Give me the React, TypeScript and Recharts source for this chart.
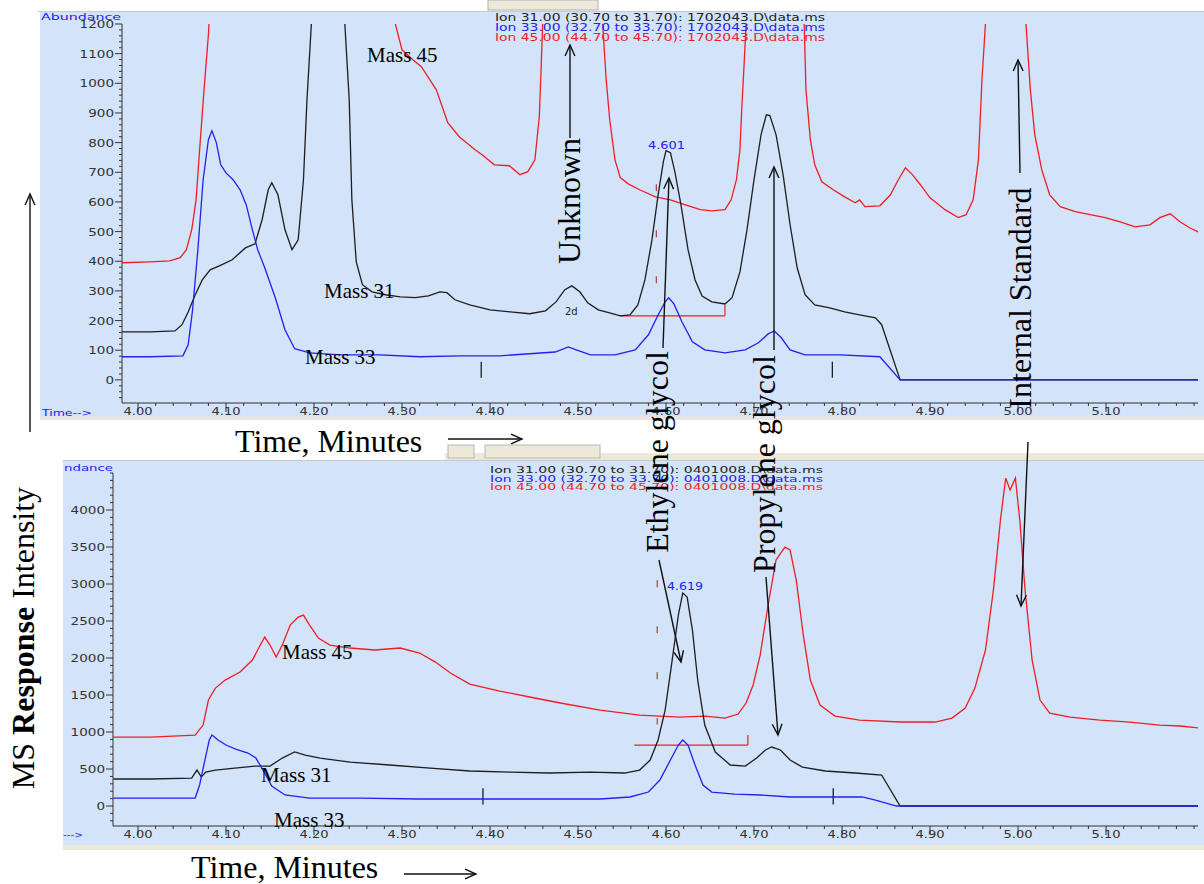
import React from 'react';
import { LineChart, Line, XAxis, YAxis, ReferenceLine } from 'recharts';

// ---------------- data: [time (min), abundance] ----------------
// Top chromatogram: 1702043.D
const topMass45: [number, number][] = [
  [3.982, 395], [4.014, 398], [4.036, 401], [4.048, 412], [4.055, 439], [4.061, 506], [4.066, 607], [4.070, 776],
  [4.075, 978], [4.080, 1164], [4.084, 1400], [4.127, 2500], [4.184, 3000], [4.241, 2500], [4.286, 1400], [4.292, 1205],
  [4.300, 1113], [4.312, 1080], [4.322, 1056], [4.339, 978], [4.352, 867], [4.365, 820], [4.383, 776], [4.391, 759],
  [4.405, 725], [4.422, 722], [4.434, 692], [4.443, 702], [4.451, 742], [4.456, 887], [4.458, 1046], [4.460, 1215],
  [4.466, 1600], [4.491, 3000], [4.523, 1600], [4.528, 1201], [4.532, 1012], [4.536, 877], [4.542, 742], [4.548, 682],
  [4.557, 661], [4.570, 641], [4.588, 617], [4.605, 607], [4.622, 590], [4.639, 574], [4.652, 570], [4.667, 574],
  [4.674, 607], [4.680, 675], [4.684, 776], [4.686, 911], [4.689, 1080], [4.691, 1201], [4.695, 1500], [4.724, 2500],
  [4.752, 1500], [4.757, 1201], [4.759, 978], [4.764, 810], [4.769, 725], [4.777, 668], [4.790, 641], [4.803, 617],
  [4.815, 597], [4.820, 607], [4.826, 584], [4.843, 587], [4.855, 624], [4.864, 675], [4.872, 715], [4.880, 692],
  [4.889, 658], [4.900, 614], [4.917, 574], [4.932, 547], [4.941, 557], [4.949, 607], [4.955, 742], [4.959, 1012],
  [4.963, 1201], [4.968, 2000], [4.991, 4000], [5.005, 2000], [5.009, 1201], [5.014, 978], [5.019, 827], [5.027, 708],
  [5.036, 624], [5.048, 584], [5.065, 567], [5.082, 557], [5.099, 547], [5.116, 533], [5.133, 516], [5.150, 523],
  [5.161, 547], [5.173, 560], [5.184, 533], [5.195, 513], [5.205, 499],
];

const topMass31: [number, number][] = [
  [3.982, 162], [4.014, 162], [4.042, 165], [4.050, 186], [4.057, 229], [4.065, 287], [4.073, 337], [4.082, 371],
  [4.093, 385], [4.107, 405], [4.122, 445], [4.133, 459], [4.141, 540], [4.148, 641], [4.152, 665], [4.159, 624],
  [4.167, 506], [4.175, 439], [4.182, 472], [4.188, 675], [4.192, 945], [4.197, 1201], [4.207, 2500], [4.218, 3000],
  [4.230, 2500], [4.235, 1201], [4.240, 945], [4.243, 607], [4.248, 398], [4.255, 321], [4.266, 297], [4.281, 287],
  [4.298, 280], [4.315, 277], [4.330, 283], [4.343, 297], [4.351, 294], [4.360, 270], [4.377, 253], [4.400, 236],
  [4.423, 229], [4.445, 223], [4.463, 233], [4.475, 263], [4.485, 304], [4.493, 317], [4.502, 297], [4.511, 260],
  [4.523, 236], [4.536, 226], [4.548, 216], [4.559, 219], [4.568, 253], [4.576, 337], [4.584, 472], [4.591, 624],
  [4.597, 736], [4.600, 773], [4.605, 766], [4.610, 702], [4.617, 590], [4.625, 439], [4.633, 337], [4.641, 283],
  [4.652, 263], [4.667, 256], [4.675, 277], [4.684, 364], [4.692, 506], [4.700, 675], [4.708, 827], [4.714, 894],
  [4.718, 891], [4.725, 827], [4.733, 692], [4.741, 523], [4.749, 378], [4.758, 287], [4.769, 253], [4.786, 243],
  [4.803, 229], [4.820, 219], [4.838, 209], [4.845, 186], [4.866, 0], [5.205, 0],
];

const topMass33: [number, number][] = [
  [3.982, 78], [4.014, 78], [4.051, 81], [4.057, 118], [4.062, 236], [4.068, 439], [4.074, 675], [4.080, 810],
  [4.084, 840], [4.089, 800], [4.094, 725], [4.100, 698], [4.108, 675], [4.116, 641], [4.123, 590], [4.130, 506],
  [4.136, 439], [4.144, 378], [4.156, 277], [4.167, 169], [4.178, 105], [4.195, 91], [4.230, 84], [4.275, 84],
  [4.320, 78], [4.366, 81], [4.411, 81], [4.445, 88], [4.474, 94], [4.489, 111], [4.498, 101], [4.514, 84],
  [4.542, 84], [4.565, 101], [4.580, 152], [4.591, 219], [4.599, 263], [4.603, 277], [4.609, 256], [4.618, 196],
  [4.630, 128], [4.644, 101], [4.667, 91], [4.690, 101], [4.705, 125], [4.716, 155], [4.723, 165], [4.731, 142],
  [4.741, 101], [4.758, 84], [4.798, 84], [4.843, 78], [4.866, 0], [5.205, 0],
];

// Bottom chromatogram: 0401008.D
const botMass45: [number, number][] = [
  [3.972, 932], [4.014, 932], [4.065, 959], [4.074, 1094], [4.080, 1432], [4.088, 1594], [4.099, 1702], [4.116, 1810],
  [4.130, 1972], [4.139, 2175], [4.144, 2283], [4.150, 2175], [4.157, 2013], [4.164, 2175], [4.173, 2445], [4.182, 2553],
  [4.188, 2580], [4.195, 2445], [4.205, 2270], [4.218, 2175], [4.241, 2135], [4.269, 2108], [4.298, 2135], [4.320, 2067],
  [4.338, 1945], [4.355, 1797], [4.377, 1648], [4.411, 1554], [4.445, 1473], [4.480, 1392], [4.525, 1297], [4.570, 1229],
  [4.616, 1202], [4.644, 1216], [4.667, 1189], [4.682, 1243], [4.691, 1392], [4.699, 1635], [4.707, 2040], [4.716, 2716],
  [4.725, 3323], [4.735, 3499], [4.741, 3459], [4.748, 3053], [4.756, 2310], [4.764, 1702], [4.775, 1365], [4.792, 1216],
  [4.820, 1162], [4.866, 1135], [4.906, 1135], [4.925, 1189], [4.940, 1324], [4.951, 1594], [4.963, 2108], [4.972, 2918],
  [4.980, 3864], [4.986, 4431], [4.991, 4269], [4.997, 4431], [5.002, 3864], [5.008, 2918], [5.016, 1972], [5.025, 1432],
  [5.036, 1256], [5.059, 1202], [5.093, 1162], [5.127, 1135], [5.161, 1094], [5.184, 1081], [5.205, 1054],
];

const botMass31: [number, number][] = [
  [3.972, 365], [4.014, 365], [4.061, 378], [4.067, 486], [4.072, 392], [4.077, 459], [4.088, 486], [4.110, 513],
  [4.133, 540], [4.150, 540], [4.164, 648], [4.178, 730], [4.190, 689], [4.207, 648], [4.241, 594], [4.286, 554],
  [4.332, 513], [4.377, 473], [4.423, 459], [4.468, 446], [4.514, 459], [4.553, 446], [4.570, 486], [4.582, 621],
  [4.591, 892], [4.599, 1297], [4.607, 1972], [4.614, 2580], [4.619, 2878], [4.624, 2824], [4.630, 2378], [4.636, 1702],
  [4.644, 1094], [4.656, 730], [4.673, 554], [4.690, 540], [4.703, 648], [4.713, 757], [4.720, 797], [4.730, 757],
  [4.741, 621], [4.755, 527], [4.781, 473], [4.815, 446], [4.845, 419], [4.866, 0], [5.205, 0],
];

const botMass33: [number, number][] = [
  [3.972, 108], [4.014, 108], [4.065, 108], [4.070, 284], [4.076, 621], [4.081, 892], [4.084, 959], [4.091, 892],
  [4.100, 824], [4.111, 770], [4.125, 716], [4.134, 648], [4.142, 486], [4.152, 270], [4.167, 149], [4.195, 108],
  [4.252, 108], [4.320, 95], [4.389, 95], [4.457, 95], [4.525, 95], [4.559, 122], [4.580, 189], [4.593, 351],
  [4.605, 621], [4.614, 824], [4.619, 892], [4.625, 824], [4.633, 554], [4.642, 284], [4.652, 189], [4.678, 162],
  [4.707, 149], [4.741, 122], [4.786, 122], [4.823, 122], [4.838, 81], [4.862, 0], [5.205, 0],
];

// axis ticks / labels
const xMajorTicks = [4.0, 4.1, 4.2, 4.3, 4.4, 4.5, 4.6, 4.7, 4.8, 4.9, 5.0, 5.1];
const topYMajor = [0, 100, 200, 300, 400, 500, 600, 700, 800, 900, 1000, 1100, 1200];
const botYMajor = [0, 500, 1000, 1500, 2000, 2500, 3000, 3500, 4000];
const topLegend = [
  'Ion  31.00 (30.70 to 31.70): 1702043.D\\data.ms',
  'Ion  33.00 (32.70 to 33.70): 1702043.D\\data.ms',
  'Ion  45.00 (44.70 to 45.70): 1702043.D\\data.ms',
];
const botLegend = [
  'Ion  31.00 (30.70 to 31.70): 0401008.D\\data.ms',
  'Ion  33.00 (32.70 to 33.70): 0401008.D\\data.ms',
  'Ion  45.00 (44.70 to 45.70): 0401008.D\\data.ms',
];

// ---------------- helpers ----------------
const RED = '#f01e23';
const BLUE = '#2222ee';
const BLACK = '#1e1e1e';
const AXIS = '#333';
const PANEL = '#d2e3fa';
const TICK_FONT = '"DejaVu Sans", Verdana, sans-serif';
const SERIF = '"Liberation Serif", "Times New Roman", serif';

const toRows = (pairs: [number, number][]) => pairs.map(([t, v]) => ({ t, v }));
const range = (a: number, b: number, s: number) => {
  const out: number[] = [];
  for (let v = a; v <= b + 1e-9; v += s) out.push(Math.round(v * 1000) / 1000);
  return out;
};
const xTicks = range(4.0, 5.2, 0.02);
const topYTicks = range(-60, 1200, 20);
const botYTicks = range(-200, 4500, 100);

const XTick = (props: any) => {
  const { x, y, payload } = props;
  const v = payload.value as number;
  const major = xMajorTicks.some((m) => Math.abs(m - v) < 1e-6);
  return (
    <g>
      <line x1={x} x2={x} y1={y} y2={y + (major ? 9 : 3)} stroke={AXIS} strokeWidth={1} />
      {major && (
        <text x={x} y={y + 12} textAnchor="middle" fontSize={10} fill={AXIS} fontFamily={TICK_FONT}
          textLength={29} lengthAdjust="spacingAndGlyphs">
          {v.toFixed(2)}
        </text>
      )}
    </g>
  );
};

const makeYTick = (majors: number[]) => (props: any) => {
  const { x, y, payload } = props;
  const v = payload.value as number;
  const major = majors.includes(v);
  const label = String(v);
  return (
    <g>
      <line x1={x - (major ? 7 : 3)} x2={x} y1={y} y2={y} stroke={AXIS} strokeWidth={1} />
      {major && (
        <text x={x - 8} y={y + 4} textAnchor="end" fontSize={10} fill={AXIS} fontFamily={TICK_FONT}
          textLength={label.length * 8.6} lengthAdjust="spacingAndGlyphs">
          {label}
        </text>
      )}
    </g>
  );
};

const Arrow = ({ x1, y1, x2, y2, head = 12 }: { x1: number; y1: number; x2: number; y2: number; head?: number }) => {
  const a = Math.atan2(y2 - y1, x2 - x1);
  const s = 0.42;
  const p1 = [x2 - head * Math.cos(a - s), y2 - head * Math.sin(a - s)];
  const p2 = [x2 - head * Math.cos(a + s), y2 - head * Math.sin(a + s)];
  return (
    <g stroke="#111" strokeWidth={1.4} fill="none">
      <line x1={x1} y1={y1} x2={x2} y2={y2} />
      <polyline points={`${p1[0]},${p1[1]} ${x2},${y2} ${p2[0]},${p2[1]}`} />
    </g>
  );
};

const VText = ({ x, y, size = 32, children }: { x: number; y: number; size?: number; children: any }) => (
  <text x={x} y={y} transform={`rotate(-90 ${x} ${y})`} textAnchor="middle" fontFamily={SERIF}
    fontSize={size} fill="#000">
    {children}
  </text>
);

const HText = ({ x, y, size = 21, children }: { x: number; y: number; size?: number; children: any }) => (
  <text x={x} y={y} fontFamily={SERIF} fontSize={size} fill="#000">{children}</text>
);

const lineProps = { type: 'linear' as const, dataKey: 'v', dot: false, isAnimationActive: false, strokeWidth: 1.3 };

const Y_W = 60;
const X_H = 20;

// ---------------- component ----------------
export default function App() {
  const top45 = toRows(topMass45);
  const top31 = toRows(topMass31);
  const top33 = toRows(topMass33);
  const bot45 = toRows(botMass45);
  const bot31 = toRows(botMass31);
  const bot33 = toRows(botMass33);

  return (
    <div style={{ position: 'absolute', left: 0, top: 0, width: 1204, height: 884, background: '#fff', overflow: 'hidden' }}>
      {/* backgrounds */}
      <svg width={1204} height={884} style={{ position: 'absolute', left: 0, top: 0 }}>
        <rect x={488} y={0} width={110} height={10} fill="#ece9d8" stroke="#b0b0b0" />
        <line x1={38} x2={1204} y1={11.5} y2={11.5} stroke="#c8c8c8" />
        <rect x={40} y={12} width={1164} height={404} fill={PANEL} />
        <rect x={40} y={416} width={1164} height={4} fill="#e6e6e6" />
        <rect x={445} y={453} width={759} height={8} fill="#ece9d8" />
        <rect x={448} y={445} width={26} height={13} fill="#ece9d8" stroke="#b8b8b8" />
        <rect x={485} y={445} width={115} height={13} fill="#ece9d8" stroke="#b8b8b8" />
        <line x1={63} x2={1204} y1={460.5} y2={460.5} stroke="#c8c8c8" />
        <rect x={63} y={461} width={1141} height={384} fill={PANEL} />
        <rect x={63} y={845} width={1141} height={5} fill="#ece9d8" />
      </svg>

      {/* top chromatogram */}
      <div style={{ position: 'absolute', left: 0, top: 0 }}>
        <LineChart width={1204} height={430} margin={{ top: 24, right: 6, bottom: 27 - X_H, left: 122 - Y_W }}>
          <XAxis type="number" dataKey="t" domain={[3.9818, 5.2045]} allowDataOverflow ticks={xTicks} interval={0}
            height={X_H} tickSize={0} tickMargin={0} tickLine={false} tick={<XTick />} stroke={AXIS} />
          <YAxis type="number" domain={[-78, 1200]} allowDataOverflow ticks={topYTicks} interval={0}
            width={Y_W} tickSize={0} tickMargin={0} tickLine={false} tick={makeYTick(topYMajor)} stroke={AXIS} />
          <ReferenceLine segment={[{ x: 4.548, y: 216 }, { x: 4.667, y: 216 }]} stroke={RED} strokeWidth={1.2} />
          <ReferenceLine segment={[{ x: 4.667, y: 216 }, { x: 4.667, y: 253 }]} stroke={RED} strokeWidth={1.2} />
          <ReferenceLine segment={[{ x: 4.589, y: 660 }, { x: 4.589, y: 250 }]} stroke="#a84040" strokeWidth={1.2}
            strokeDasharray="7 39" />
          <ReferenceLine segment={[{ x: 4.39, y: 61 }, { x: 4.39, y: 7 }]} stroke={BLACK} strokeWidth={1.3} />
          <ReferenceLine segment={[{ x: 4.789, y: 61 }, { x: 4.789, y: 7 }]} stroke={BLACK} strokeWidth={1.3} />
          <Line {...lineProps} data={top45} stroke={RED} />
          <Line {...lineProps} data={top31} stroke={BLACK} />
          <Line {...lineProps} data={top33} stroke={BLUE} />
        </LineChart>
      </div>

      {/* bottom chromatogram */}
      <div style={{ position: 'absolute', left: 0, top: 440 }}>
        <LineChart width={1204} height={410} margin={{ top: 33, right: 6, bottom: 24 - X_H, left: 113 - Y_W }}>
          <XAxis type="number" dataKey="t" domain={[3.9716, 5.2045]} allowDataOverflow ticks={xTicks} interval={0}
            height={X_H} tickSize={0} tickMargin={0} tickLine={false} tick={<XTick />} stroke={AXIS} />
          <YAxis type="number" domain={[-270, 4500]} allowDataOverflow ticks={botYTicks} interval={0}
            width={Y_W} tickSize={0} tickMargin={0} tickLine={false} tick={makeYTick(botYMajor)} stroke={AXIS} />
          <ReferenceLine segment={[{ x: 4.564, y: 824 }, { x: 4.693, y: 824 }]} stroke={RED} strokeWidth={1.2} />
          <ReferenceLine segment={[{ x: 4.693, y: 824 }, { x: 4.693, y: 960 }]} stroke={RED} strokeWidth={1.2} />
          <ReferenceLine segment={[{ x: 4.590, y: 3050 }, { x: 4.590, y: 1100 }]} stroke="#a84040" strokeWidth={1.2}
            strokeDasharray="7 39" />
          <ReferenceLine segment={[{ x: 4.392, y: 240 }, { x: 4.392, y: 20 }]} stroke={BLACK} strokeWidth={1.3} />
          <ReferenceLine segment={[{ x: 4.790, y: 240 }, { x: 4.790, y: 20 }]} stroke={BLACK} strokeWidth={1.3} />
          <Line {...lineProps} data={bot45} stroke={RED} />
          <Line {...lineProps} data={bot31} stroke={BLACK} />
          <Line {...lineProps} data={bot33} stroke={BLUE} />
        </LineChart>
      </div>

      {/* annotations */}
      <svg width={1204} height={884} style={{ position: 'absolute', left: 0, top: 0, pointerEvents: 'none' }}>
        {/* instrument texts */}
        <text x={41} y={20} fontSize={9} fill={BLUE} fontFamily={TICK_FONT} textLength={80} lengthAdjust="spacingAndGlyphs">Abundance</text>
        <text x={42} y={416} fontSize={9} fill={BLUE} fontFamily={TICK_FONT} textLength={50} lengthAdjust="spacingAndGlyphs">Time--&gt;</text>
        <text x={64} y={471} fontSize={9} fill={BLUE} fontFamily={TICK_FONT} textLength={49} lengthAdjust="spacingAndGlyphs">ndance</text>
        <text x={63} y={838} fontSize={9} fill={BLUE} fontFamily={TICK_FONT} textLength={20} lengthAdjust="spacingAndGlyphs">---&gt;</text>
        {topLegend.map((s, i) => (
          <text key={'tl' + i} x={495} y={21 + i * 10} fontSize={10} fill={[BLACK, BLUE, RED][i]} fontFamily={TICK_FONT}
            textLength={330} lengthAdjust="spacingAndGlyphs">{s}</text>
        ))}
        {botLegend.map((s, i) => (
          <text key={'bl' + i} x={490} y={473 + i * 8.5} fontSize={9.5} fill={[BLACK, BLUE, RED][i]} fontFamily={TICK_FONT}
            textLength={333} lengthAdjust="spacingAndGlyphs">{s}</text>
        ))}
        <text x={648} y={149} fontSize={10} fill={BLUE} fontFamily={TICK_FONT} textLength={37} lengthAdjust="spacingAndGlyphs">4.601</text>
        <text x={667} y={590} fontSize={10} fill={BLUE} fontFamily={TICK_FONT} textLength={36} lengthAdjust="spacingAndGlyphs">4.619</text>
        <text x={565} y={315} fontSize={10} fill={BLACK} fontFamily={TICK_FONT}>2d</text>

        {/* mass labels */}
        <HText x={367} y={62}>Mass 45</HText>
        <HText x={324} y={298}>Mass 31</HText>
        <HText x={305} y={364}>Mass 33</HText>
        <HText x={282} y={659}>Mass 45</HText>
        <HText x={261} y={782}>Mass 31</HText>
        <HText x={274} y={827}>Mass 33</HText>

        {/* axis titles */}
        <HText x={235} y={452} size={32}>Time, Minutes</HText>
        <HText x={191} y={878} size={32}>Time, Minutes</HText>
        <Arrow x1={448} y1={439} x2={522} y2={439} />
        <Arrow x1={404} y1={874} x2={476} y2={874} />
        <Arrow x1={30} y1={432} x2={30} y2={194} />
        <text x={34} y={638} transform="rotate(-90 34 638)" textAnchor="middle" fontFamily={SERIF} fontSize={32} fill="#000">
          MS <tspan fontWeight="bold">Response</tspan> Intensity
        </text>

        {/* compound labels */}
        <VText x={580} y={201}>Unknown</VText>
        <Arrow x1={570} y1={138} x2={570} y2={45} />
        <VText x={668} y={452}>Ethylene glycol</VText>
        <Arrow x1={663} y1={348} x2={669} y2={178} />
        <Arrow x1={659} y1={560} x2={681} y2={662} />
        <VText x={775} y={464}>Propylene glycol</VText>
        <Arrow x1={774} y1={350} x2={774} y2={167} />
        <Arrow x1={766} y1={577} x2={778} y2={735} />
        <VText x={1031} y={298}>Internal Standard</VText>
        <Arrow x1={1020} y1={173} x2={1018} y2={60} />
        <Arrow x1={1028} y1={442} x2={1021} y2={606} />
      </svg>
    </div>
  );
}
